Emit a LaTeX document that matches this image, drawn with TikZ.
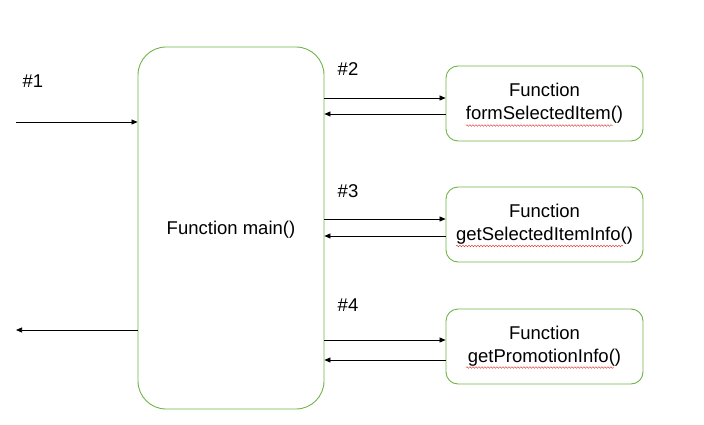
\documentclass[tikz,border=0pt]{standalone}
\usepackage{fontspec}
\setmainfont{Liberation Sans}
\usetikzlibrary{arrows.meta,decorations.pathmorphing}
\definecolor{boxgreen}{RGB}{112,180,72}
\definecolor{squig}{RGB}{220,40,40}
\begin{document}
\begin{tikzpicture}[x=1pt,y=-1pt,
  fbox/.style={draw=boxgreen,line width=0.9pt,rounded corners=12pt,minimum width=197pt,minimum height=75pt,align=center,inner sep=0pt,font=\fontsize{18.5}{23}\selectfont},
  mainbox/.style={draw=boxgreen,line width=0.9pt,rounded corners=28pt,minimum width=186pt,minimum height=362pt},
  arr/.style={-{Triangle[length=6pt,width=5pt]},line width=0.7pt},
  lbl/.style={font=\fontsize{18.5}{20}\selectfont,inner sep=0pt},
  wavy/.style={draw=squig,line width=0.4pt,decorate,decoration={snake,amplitude=0.8pt,segment length=3pt}}]
\useasboundingbox (0,0) rectangle (704,425);
\node[mainbox] (main) at (231,228) {};
\node[lbl] (maintext) at (231,229.5) {Function main()};
\node[fbox] (f1) at (544.5,103.5) {Function\\formSelectedItem()};
\node[fbox] (f2) at (544.5,224.5) {Function\\getSelectedItemInfo()};
\node[fbox] (f3) at (544.5,346.5) {Function\\getPromotionInfo()};
\coordinate (in) at (16,122);
\coordinate (out) at (16,330);
\draw[arr] (in) -- (main.west |- in);
\draw[arr] (main.west |- out) -- (out);
\draw[arr] (main.east |- 0,98) -- (f1.west |- 0,98);
\draw[arr] (f1.west |- 0,114) -- (main.east |- 0,114);
\draw[arr] (main.east |- 0,219) -- (f2.west |- 0,219);
\draw[arr] (f2.west |- 0,236) -- (main.east |- 0,236);
\draw[arr] (main.east |- 0,340) -- (f3.west |- 0,340);
\draw[arr] (f3.west |- 0,360) -- (main.east |- 0,360);
\node[lbl] (l1) at (33,81) {\#1};
\node[lbl] (l2) at (348,69) {\#2};
\node[lbl] (l3) at (348,191) {\#3};
\node[lbl] (l4) at (348,305) {\#4};
\draw[wavy] (466,125.5) -- (613,125.5);
\draw[wavy] (456,246) -- (623,246);
\draw[wavy] (466,367.5) -- (614,367.5);
\end{tikzpicture}
\end{document}
